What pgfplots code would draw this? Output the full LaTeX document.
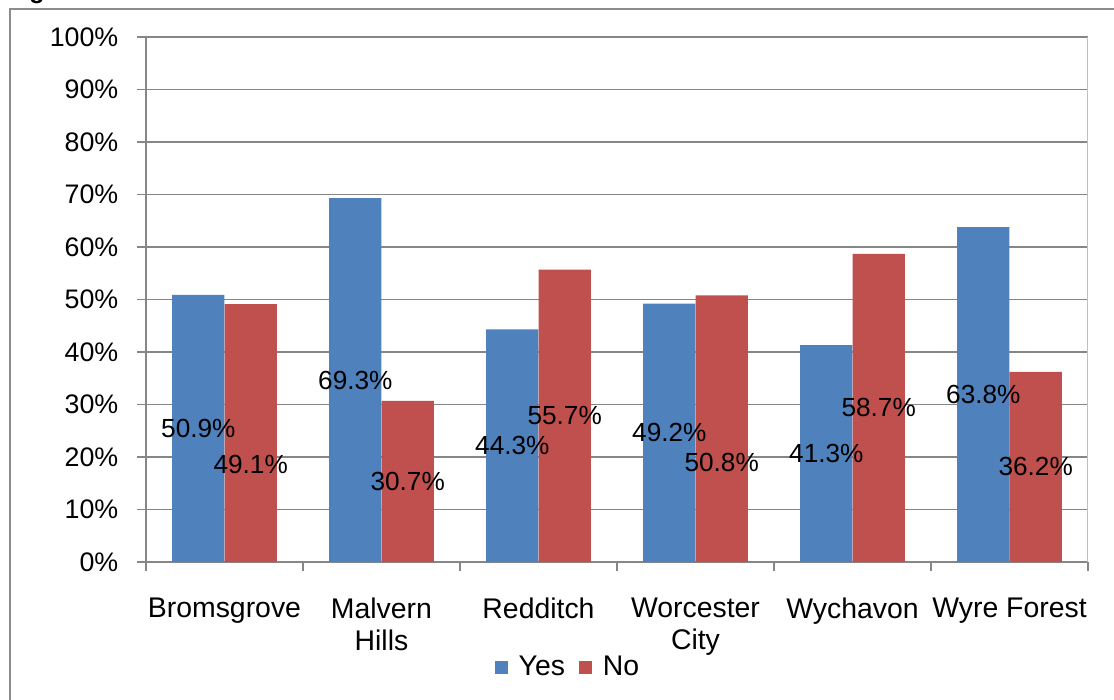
\documentclass[border=0pt]{standalone}
\usepackage{pgfplots}
\pgfplotsset{compat=1.18}
\usepackage{pgfplotstable}
\usepackage{fontspec}
\setmainfont{Liberation Sans}

\definecolor{yescol}{HTML}{4F81BD}
\definecolor{nocol}{HTML}{C0504D}
\definecolor{gridcol}{HTML}{868686}
\definecolor{framecol}{HTML}{8C8C8C}
\definecolor{rightcol}{HTML}{C0C0C0}

% district, share answering yes / no, and heights of the value labels
\pgfplotstableread{
x Yes YesL No NoL
0 50.9 25.45 49.1 18.5
1 69.3 34.65 30.7 15.35
2 44.3 22.15 55.7 27.85
3 49.2 24.6 50.8 19.0
4 41.3 20.65 58.7 29.35
5 63.8 31.9 36.2 18.1
}\results

\newcommand{\catfont}{\fontsize{14.2}{16}\selectfont}
\newcommand{\tickfont}{\fontsize{13.4}{16}\selectfont}
\newcommand{\labfont}{\fontsize{13.1}{16}\selectfont}

\begin{document}
\begin{tikzpicture}
\useasboundingbox (0pt,0pt) rectangle (557pt,-350pt);
% chart frame
\draw[framecol, line width=1pt] (4.75pt,-352pt) -- (4.75pt,-4.5pt) -- (560pt,-4.5pt);
\node[anchor=base west, inner sep=0pt, font=\fontsize{12.5}{15}\selectfont\bfseries] at (14.5pt,0.6pt) {g};
\begin{axis}[
  at={(73pt,-281pt)}, anchor=south west,
  scale only axis, width=471pt, height=262.5pt,
  /pgf/number format/assume math mode=true,
  xmin=-0.5, xmax=5.5, ymin=0, ymax=100,
  axis x line*=bottom, axis y line*=left,
  axis line style={gridcol, line width=0.9pt},
  ytick={0,10,...,100},
  yticklabel={\pgfmathprintnumber{\tick}\%},
  yticklabel style={xshift=-6pt, font=\tickfont},
  xtick={-0.5,0.5,...,5.5},
  x tick label as interval,
  xticklabels={Bromsgrove, Malvern\\Hills, Redditch, Worcester\\City, Wychavon, Wyre Forest},
  xticklabel style={align=center, yshift=-10pt, font=\catfont},
  tick align=outside,
  major tick length=4.3pt,
  tick style={gridcol, line width=0.9pt},
  ymajorgrids,
  grid style={gridcol, line width=0.9pt},
  legend style={at={(0.449,-0.2)}, anchor=center, draw=none, fill=none,
    legend columns=2, font=\catfont,
    /tikz/every even column/.append style={column sep=5pt}},
  legend image code/.code={\fill[#1] (0pt,-3.25pt) rectangle (6.5pt,3.25pt);
    \path (10pt,0pt);},
]
\addplot[ybar, bar width=0.3333, bar shift=0pt, fill=yescol, draw=none]
  table[x expr=\thisrow{x}-1/6, y=Yes]{\results};
\addlegendentry{Yes}
\addplot[ybar, bar width=0.3333, bar shift=0pt, fill=nocol, draw=none]
  table[x expr=\thisrow{x}+1/6, y=No]{\results};
\addlegendentry{No}

% value labels
\addplot[draw=none, mark=none, forget plot, point meta=explicit,
  nodes near coords={\pgfmathprintnumber[fixed,fixed zerofill,precision=1]{\pgfplotspointmeta}\%},
  every node near coord/.style={anchor=center, black, font=\labfont}]
  table[x expr=\thisrow{x}-1/6, y=YesL, meta=Yes]{\results};
\addplot[draw=none, mark=none, forget plot, point meta=explicit,
  nodes near coords={\pgfmathprintnumber[fixed,fixed zerofill,precision=1]{\pgfplotspointmeta}\%},
  every node near coord/.style={anchor=center, black, font=\labfont}]
  table[x expr=\thisrow{x}+1/6, y=NoL, meta=No]{\results};

% right edge of the plot area
\draw[rightcol, line width=0.9pt] (rel axis cs:1,0) -- (rel axis cs:1,1);
\end{axis}
\end{tikzpicture}
\end{document}
